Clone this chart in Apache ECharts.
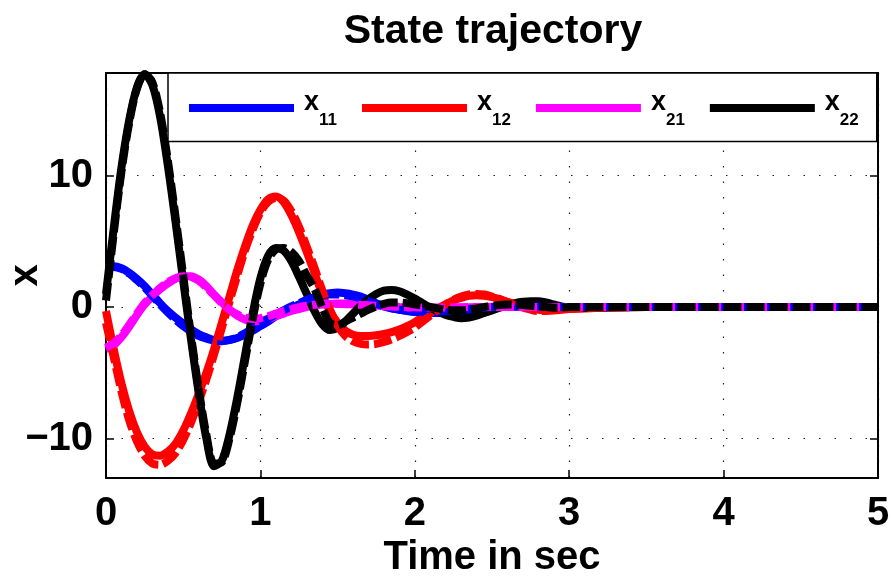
<!DOCTYPE html>
<html lang="en">
<head>
<meta charset="UTF-8">
<title>State trajectory</title>
<style>html,body{margin:0;padding:0;background:#fff;}</style>
</head>
<body>
<div id="main" style="width:893px;height:581px;"></div>
<script src="https://cdn.jsdelivr.net/npm/echarts@6/dist/echarts.min.js"></script>
<script>
// time samples (sec)
var time = [
  0, 0.05, 0.1, 0.15, 0.2, 0.25, 0.3, 0.35, 0.4, 0.45,
  0.5, 0.55, 0.6, 0.65, 0.7, 0.75, 0.8, 0.85, 0.9, 0.95,
  1.0, 1.05, 1.1, 1.15, 1.2, 1.25, 1.3, 1.35, 1.4, 1.45,
  1.5, 1.55, 1.6, 1.65, 1.7, 1.75, 1.8, 1.85, 1.9, 1.95,
  2.0, 2.05, 2.1, 2.15, 2.2, 2.25, 2.3, 2.35, 2.4, 2.45,
  2.5, 2.55, 2.6, 2.65, 2.7, 2.75, 2.8, 2.85, 2.9, 2.95,
  3.0, 3.5, 4.0, 4.5, 5.0
];

// solid lines
var x11 = [
  3.0, 3.1, 2.95, 2.6, 2.15, 1.6, 0.95, 0.3, -0.3, -0.8,
  -1.25, -1.7, -2.05, -2.3, -2.5, -2.55, -2.5, -2.35, -2.1, -1.8,
  -1.45, -1.1, -0.7, -0.4, -0.1, 0.2, 0.5, 0.75, 0.95, 1.05,
  1.1, 1.05, 0.95, 0.8, 0.55, 0.3, 0.05, -0.1, -0.2, -0.3,
  -0.38, -0.42, -0.45, -0.45, -0.42, -0.38, -0.32, -0.25, -0.18, -0.1,
  -0.05, 0, 0.03, 0.05, 0.06, 0.06, 0.05, 0.04, 0.02, 0.01,
  0, 0, 0, 0, 0
];
var x12 = [
  -0.3, -3.2, -5.8, -7.9, -9.5, -10.6, -11.2, -11.3, -11.0, -10.4,
  -9.4, -8.1, -6.6, -5.0, -3.2, -1.2, 0.8, 2.8, 4.6, 6.2,
  7.4, 8.2, 8.4, 8.0, 7.0, 5.7, 4.2, 2.6, 1.0, -0.3,
  -1.2, -1.8, -2.1, -2.2, -2.2, -2.15, -2.05, -1.9, -1.7, -1.45,
  -1.15, -0.8, -0.45, -0.1, 0.2, 0.5, 0.7, 0.85, 0.9, 0.85,
  0.75, 0.6, 0.4, 0.2, 0.05, -0.1, -0.2, -0.25, -0.25, -0.2,
  -0.15, 0, 0, 0, 0
];
var x21 = [
  -3.2, -2.9, -2.3, -1.5, -0.6, 0.2, 0.8, 1.35, 1.8, 2.15,
  2.35, 2.35, 2.1, 1.6, 0.95, 0.35, -0.2, -0.65, -0.95, -1.1,
  -1.05, -0.9, -0.7, -0.5, -0.3, -0.15, 0.0, 0.1, 0.2, 0.25,
  0.28, 0.28, 0.25, 0.22, 0.18, 0.12, 0.08, 0.04, 0, -0.03,
  -0.05, -0.07, -0.08, -0.08, -0.07, -0.06, -0.04, -0.02, 0, 0.01,
  0.02, 0.02, 0.01, 0, 0, 0, 0, 0, 0, 0,
  0, 0, 0, 0, 0
];
var x22 = [
  1.0, 6.0, 10.6, 14.2, 16.7, 17.7, 16.9, 14.5, 10.8, 6.5,
  2.0, -2.4, -6.5, -10.0, -12.1, -11.7, -9.7, -6.9, -3.7, -0.5,
  2.2, 3.9, 4.5, 4.3, 3.5, 2.3, 1.0, -0.3, -1.3, -1.75,
  -1.6, -1.1, -0.5, 0.1, 0.6, 1.0, 1.25, 1.3, 1.2, 0.95,
  0.65, 0.3, -0.05, -0.35, -0.6, -0.75, -0.85, -0.8, -0.65, -0.45,
  -0.25, -0.05, 0.15, 0.3, 0.4, 0.45, 0.45, 0.35, 0.2, 0.05,
  -0.05, 0, 0, 0, 0
];

// dashed lines
var x11d = [
  3.0, 3.05, 2.9, 2.55, 2.05, 1.5, 0.85, 0.2, -0.4, -0.95,
  -1.45, -1.85, -2.2, -2.4, -2.55, -2.6, -2.5, -2.3, -2.0, -1.65,
  -1.3, -0.9, -0.55, -0.25, 0.05, 0.3, 0.55, 0.75, 0.9, 0.95,
  0.95, 0.9, 0.8, 0.65, 0.45, 0.25, 0.05, -0.1, -0.2, -0.28,
  -0.33, -0.35, -0.35, -0.33, -0.3, -0.25, -0.2, -0.15, -0.1, -0.05,
  0, 0.02, 0.04, 0.05, 0.05, 0.04, 0.03, 0.02, 0.01, 0,
  0, 0, 0, 0, 0
];
var x12d = [
  -1.2, -3.8, -6.4, -8.6, -10.2, -11.3, -11.9, -12.0, -11.7, -11.1,
  -10.1, -8.8, -7.2, -5.5, -3.6, -1.6, 0.4, 2.4, 4.3, 5.9,
  7.2, 8.0, 8.3, 8.1, 7.3, 6.1, 4.6, 3.0, 1.3, -0.2,
  -1.4, -2.2, -2.6, -2.8, -2.85, -2.8, -2.65, -2.45, -2.2, -1.9,
  -1.55, -1.1, -0.65, -0.2, 0.2, 0.55, 0.8, 0.95, 1.0, 0.95,
  0.8, 0.6, 0.35, 0.15, -0.05, -0.2, -0.3, -0.3, -0.25, -0.15,
  -0.1, 0, 0, 0, 0
];
var x21d = [
  -3.1, -2.75, -2.15, -1.35, -0.5, 0.3, 0.9, 1.45, 1.9, 2.2,
  2.35, 2.3, 2.0, 1.5, 0.9, 0.3, -0.2, -0.55, -0.8, -0.9,
  -0.85, -0.7, -0.5, -0.3, -0.15, 0.0, 0.1, 0.18, 0.22, 0.24,
  0.24, 0.22, 0.2, 0.17, 0.14, 0.1, 0.07, 0.04, 0.02, 0,
  -0.02, -0.03, -0.04, -0.04, -0.03, -0.02, -0.01, 0, 0, 0,
  0, 0, 0, 0, 0, 0, 0, 0, 0, 0,
  0, 0, 0, 0, 0
];
var x22d = [
  0.5, 5.6, 10.3, 14.0, 16.6, 17.7, 17.1, 14.8, 11.2, 6.9,
  2.4, -2.1, -6.2, -9.7, -11.9, -11.8, -10.0, -7.3, -4.1, -0.9,
  1.8, 3.6, 4.4, 4.5, 4.2, 3.5, 2.4, 1.4, 0.0, -1.2,
  -1.4, -1.1, -0.8, -0.5, -0.2, 0.05, 0.25, 0.35, 0.35, 0.3,
  0.2, 0.1, 0.0, -0.1, -0.2, -0.25, -0.25, -0.2, -0.1, 0.0,
  0.1, 0.15, 0.2, 0.2, 0.15, 0.1, 0.05, 0.0, -0.05, -0.05,
  0, 0, 0, 0, 0
];

var names = ['x11', 'x12', 'x21', 'x22'];
var colors = ['#0000ff', '#ff0000', '#ff00ff', '#000000'];
var solid = [x11, x12, x21, x22];
var dashed = [x11d, x12d, x21d, x22d];

var font = "'Liberation Sans', Arial, Helvetica, sans-serif";

function pairs(arr) {
  return time.map(function (t, i) { return [t, arr[i]]; });
}
function minus(v) {
  return v < 0 ? '\u2212' + Math.abs(v) : String(v);
}

var series = [];
names.forEach(function (n, i) {
  series.push({
    name: n, type: 'line', data: pairs(solid[i]),
    symbol: 'none', smooth: 0.3, clip: true,
    lineStyle: { width: 8, color: colors[i] },
    itemStyle: { color: colors[i] }
  });
});
names.forEach(function (n, i) {
  series.push({
    name: n + 'd', type: 'line', data: pairs(dashed[i]),
    symbol: 'none', smooth: 0.3, clip: true,
    lineStyle: { width: 8, color: colors[i], type: [18, 5] },
    itemStyle: { color: colors[i] }
  });
});

var boxLine = { show: true, onZero: false, lineStyle: { color: '#000', width: 2 } };
var innerTick = { show: true, inside: true, length: 8, lineStyle: { color: '#000', width: 1.5 } };
var dots = { show: true, lineStyle: { color: '#222', width: 1.2, type: [1.5, 14] } };
var bigText = { fontSize: 40, fontWeight: 'bold', color: '#000', fontFamily: font };

var myChart = echarts.init(document.getElementById('main'));
var option = {
  animation: false,
  backgroundColor: '#fff',
  title: {
    text: 'State trajectory',
    left: 488, top: 6, textAlign: 'center',
    textStyle: { fontSize: 41, fontWeight: 'bold', color: '#000', fontFamily: font }
  },
  legend: {
    data: names,
    left: 168, top: 73,
    icon: 'rect', itemWidth: 105, itemHeight: 8, itemGap: 25,
    padding: [16.5, 18, 12.5, 21],
    borderColor: '#000', borderWidth: 1.5, borderRadius: 0,
    backgroundColor: '#fff',
    selectedMode: false,
    formatter: function (name) {
      return '{a|x}{b|' + name.substring(1) + '}';
    },
    textStyle: {
      fontFamily: font, fontWeight: 'bold', color: '#000',
      rich: {
        a: { fontSize: 27, fontWeight: 'bold', fontFamily: font, color: '#000', padding: [0, 0, 10, 5] },
        b: { fontSize: 17, fontWeight: 'bold', fontFamily: font, color: '#000', padding: [25, 0, 0, 0] }
      }
    }
  },
  grid: { left: 106, right: 15, top: 73, bottom: 103, containLabel: false, outerBoundsMode: 'none' },
  xAxis: [{
    type: 'value', min: 0, max: 5, interval: 1, position: 'bottom',
    axisLine: boxLine, axisTick: innerTick, splitLine: dots,
    axisLabel: Object.assign({ margin: 16 }, bigText),
    name: 'Time in sec', nameLocation: 'middle', nameGap: 60, nameMoveOverlap: false,
    nameTextStyle: bigText
  }, {
    type: 'value', min: 0, max: 5, interval: 1, position: 'top',
    axisLine: boxLine, axisTick: innerTick,
    axisLabel: { show: false }, splitLine: { show: false }
  }],
  yAxis: [{
    type: 'value', min: -13, max: 17.8, splitNumber: 3, position: 'left',
    axisLine: boxLine, axisTick: innerTick, splitLine: dots,
    axisLabel: Object.assign({ margin: 13, showMinLabel: false, showMaxLabel: false, formatter: minus }, bigText),
    name: 'x', nameLocation: 'middle', nameGap: 60, nameMoveOverlap: false,
    nameTextStyle: bigText
  }, {
    type: 'value', min: -13, max: 17.8, splitNumber: 3, position: 'right',
    axisLine: boxLine, axisTick: innerTick,
    axisLabel: { show: false }, splitLine: { show: false }
  }],
  series: series
};
myChart.setOption(option);
</script>
</body>
</html>
